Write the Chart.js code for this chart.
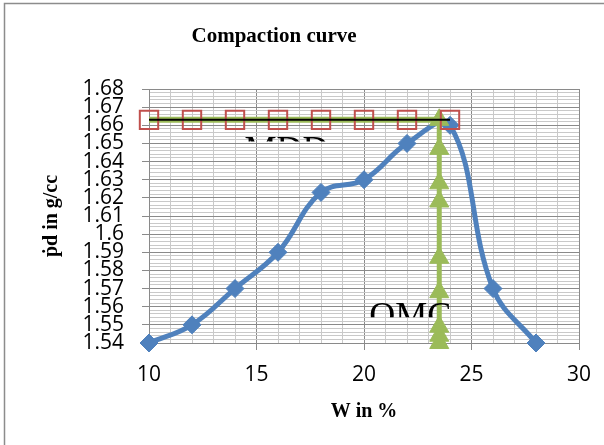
<!DOCTYPE html>
<html>
<head>
<meta charset="utf-8">
<script src="https://cdn.jsdelivr.net/npm/chart.js@4.4.1/dist/chart.umd.min.js"></script>
<style>
  html, body { margin: 0; padding: 0; background: #fff; }
  canvas { display: block; }
</style>
</head>
<body>
<canvas id="chart" width="604" height="445"></canvas>
<script>
// compaction test readings
const moisture = [10, 12, 14, 16, 18, 20, 22, 24, 26, 28]
const dryDensity = [1.54, 1.55, 1.57, 1.59, 1.623, 1.63, 1.65, 1.66, 1.57, 1.54]

// MDD guide (red squares + horizontal lines)
const mddX = [10, 12, 14, 16, 18, 20, 22, 24]
const mddValue = 1.663
const mddLineEnd = 23.5

// OMC guide (vertical line with triangles)
const omcValue = 23.5
const omcY = [1.54, 1.544, 1.549, 1.568, 1.587, 1.618, 1.628, 1.647, 1.663]

const xRange = [10, 30]
const yRange = [1.54, 1.68]

const blue = '#4F81BD'
const red = '#C0504D'
const green = '#9BBB59'
const majorGrid = '#8a8a8a'
const minorGrid = '#c9c9c9'

const isMajorY = v => Math.abs(v * 100 - Math.round(v * 100)) < 1e-6
const isMajorX = v => Math.abs(v % 5) < 1e-6

const frameAndText = {
    id: 'frameAndText',
    beforeDraw(chart) {
        const c = chart.ctx
        c.save()
        c.fillStyle = '#fff'
        c.fillRect(0, 0, chart.width, chart.height)
        c.strokeStyle = '#8c8c8c'
        c.lineWidth = 1.5
        c.strokeRect(4.5, 3.5, chart.width + 20, chart.height + 20)
        c.fillStyle = '#000'
        c.font = 'bold 21px "Liberation Serif", "Times New Roman", serif'
        c.textAlign = 'center'
        c.textBaseline = 'middle'
        c.fillText('Compaction curve', 274, 37)
        c.restore()
    },
    afterDatasetsDraw(chart) {
        const c = chart.ctx
        const x = chart.scales.x
        const y = chart.scales.y
        const label = (text, xv, topV, clipV) => {
            const top = y.getPixelForValue(topV)
            const clip = y.getPixelForValue(clipV)
            c.save()
            c.beginPath()
            c.rect(0, 0, chart.width, clip)
            c.clip()
            c.fillStyle = '#000'
            c.font = '36px "Liberation Serif", "Times New Roman", serif'
            c.textAlign = 'center'
            c.textBaseline = 'alphabetic'
            c.fillText(text, x.getPixelForValue(xv), top + 24)
            c.restore()
        }
        label('MDD', 16.4, 1.6533, 1.6511)
        label('OMC', 22.15, 1.5623, 1.5542)
    }
}

new Chart(document.getElementById('chart'), {
    type: 'scatter',
    data: {
        datasets: [
            {
                label: 'MDD line',
                data: [{ x: mddX[0], y: mddValue }, { x: mddX[mddX.length - 1], y: mddValue }],
                showLine: true,
                borderColor: '#000',
                borderWidth: 2,
                pointRadius: 0,
                order: 1
            },
            {
                label: 'MDD points',
                data: mddX.map(v => ({ x: v, y: mddValue })),
                showLine: false,
                pointStyle: 'rect',
                pointRadius: 13,
                pointBackgroundColor: 'rgba(0,0,0,0)',
                pointBorderColor: red,
                pointBorderWidth: 2,
                order: 2
            },
            {
                label: 'OMC',
                data: omcY.map(v => ({ x: omcValue, y: v })),
                showLine: true,
                borderColor: green,
                borderWidth: 5,
                pointStyle: 'triangle',
                pointRadius: 11,
                pointBackgroundColor: green,
                pointBorderColor: green,
                pointBorderWidth: 1,
                order: 3
            },
            {
                label: 'MDD green',
                data: [{ x: mddX[0], y: mddValue }, { x: mddLineEnd, y: mddValue }],
                showLine: true,
                borderColor: green,
                borderWidth: 6,
                pointRadius: 0,
                order: 4
            },
            {
                label: 'Dry density',
                data: moisture.map((m, i) => ({ x: m, y: dryDensity[i] })),
                showLine: true,
                tension: 0.4,
                borderColor: blue,
                borderWidth: 5,
                pointStyle: 'rectRot',
                pointRadius: 9,
                pointBackgroundColor: blue,
                pointBorderColor: blue,
                pointBorderWidth: 1,
                order: 5
            }
        ]
    },
    options: {
        responsive: false,
        animation: false,
        clip: false,
        layout: { padding: { top: 89, right: 25, left: 0, bottom: 0 } },
        plugins: {
            legend: { display: false },
            tooltip: { enabled: false }
        },
        scales: {
            x: {
                type: 'linear',
                min: xRange[0],
                max: xRange[1],
                afterFit: s => { s.height = 102 },
                ticks: {
                    stepSize: 1,
                    autoSkip: false,
                    maxRotation: 0,
                    padding: 12,
                    color: '#000',
                    font: { family: '"Open Sans", sans-serif', size: 21 },
                    callback: v => isMajorX(v) ? String(v) : ''
                },
                grid: {
                    color: c => isMajorX(c.tick.value) ? majorGrid : minorGrid,
                    tickColor: c => isMajorX(c.tick.value) ? majorGrid : 'rgba(0,0,0,0)',
                    tickLength: 7,
                    lineWidth: 1
                },
                border: { color: majorGrid, width: 1 },
                title: {
                    display: true,
                    text: 'W in %',
                    color: '#000',
                    padding: { top: 0, bottom: 21 },
                    font: { family: '"Liberation Serif", "Times New Roman", serif', size: 20, weight: 'bold' }
                }
            },
            y: {
                min: yRange[0],
                max: yRange[1],
                afterFit: s => { s.width = 149 },
                ticks: {
                    stepSize: 0.002,
                    autoSkip: false,
                    padding: 18,
                    color: '#000',
                    font: { family: '"Open Sans", sans-serif', size: 21 },
                    callback: v => isMajorY(v) ? String(parseFloat(v.toFixed(2))) : ''
                },
                grid: {
                    color: c => isMajorY(c.tick.value) ? majorGrid : minorGrid,
                    tickColor: c => isMajorY(c.tick.value) ? majorGrid : 'rgba(0,0,0,0)',
                    tickLength: 7,
                    lineWidth: 1
                },
                border: { color: majorGrid, width: 1 },
                title: {
                    display: true,
                    text: 'ṗd in g/cc',
                    color: '#000',
                    padding: { top: 40, bottom: 0 },
                    font: { family: '"Liberation Serif", "Times New Roman", serif', size: 20, weight: 'bold' }
                }
            }
        }
    },
    plugins: [frameAndText]
})
</script>
</body>
</html>
